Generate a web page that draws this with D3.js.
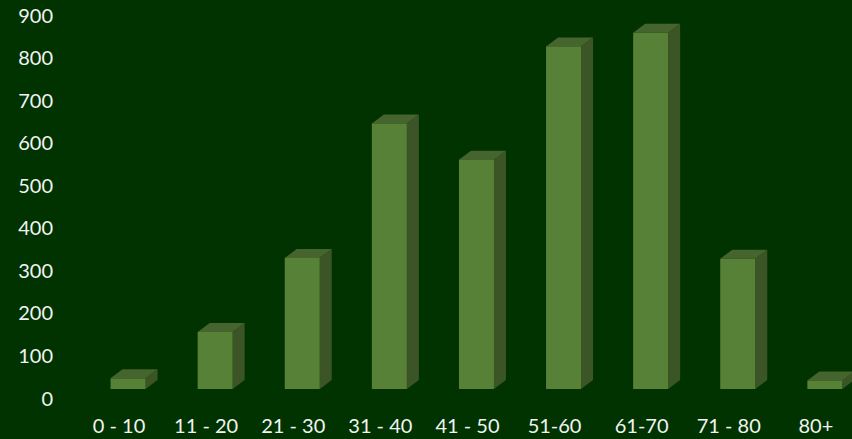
<!DOCTYPE html>
<html>
<head>
<meta charset="utf-8">
<script src="https://cdn.jsdelivr.net/npm/d3@7"></script>
<style>
  body { margin: 0; background: #003300; }
  text { font-family: Lato, "Open Sans", sans-serif; fill: #f2f2f2; }
</style>
</head>
<body>
<svg></svg>
<script>
var categories = ["0 - 10", "11 - 20", "21 - 30", "31 - 40", "41 - 50", "51-60", "61-70", "71 - 80", "80+"];
var values = [25, 134, 308, 624, 539, 805, 837, 306, 20];
var yTicks = [0, 100, 200, 300, 400, 500, 600, 700, 800, 900];

var svgWidth = 852;
var svgHeight = 439;
var barWidth = 35;
var depthX = 12, depthY = 9;

var svg = d3.select("svg")
    .attr("width", svgWidth)
    .attr("height", svgHeight);

svg.append("rect")
    .attr("width", svgWidth)
    .attr("height", svgHeight)
    .attr("fill", "#003300");

var x = d3.scaleBand()
    .domain(categories)
    .range([75.5, 75.5 + 87.1 * categories.length]);

var y = d3.scaleLinear()
    .domain([0, 900])
    .range([398, 15]);

// value axis
var yAxis = svg.append("g")
    .attr("transform", "translate(53,0)")
    .call(d3.axisLeft(y).tickValues(yTicks).tickSize(0).tickPadding(0));
yAxis.select(".domain").remove();
yAxis.selectAll("text")
    .attr("font-size", 20)
    .attr("dy", "0.35em");

// category labels
svg.selectAll(".cat")
    .data(categories)
    .enter()
    .append("text")
    .attr("class", "cat")
    .attr("x", function(d) { return x(d) + x.bandwidth() / 2; })
    .attr("y", 426)
    .attr("dy", "0.35em")
    .attr("text-anchor", "middle")
    .attr("font-size", 20)
    .text(function(d) { return d; });

// 3d bars: front face sits depthY below the value scale
var bars = svg.selectAll(".bar")
    .data(values)
    .enter()
    .append("g")
    .attr("class", "bar")
    .attr("transform", function(d, i) {
        var left = x(categories[i]) + x.bandwidth() / 2 - 8.5;
        return "translate(" + left + "," + (-depthY) + ")";
    });

bars.append("path")
    .attr("fill", "#3c5526")
    .attr("d", function(d) {
        var t = y(d), b = y(0);
        return "M" + barWidth + "," + t + "L" + (barWidth + depthX) + "," + (t - depthY) +
               "L" + (barWidth + depthX) + "," + (b - depthY) + "L" + barWidth + "," + b + "Z";
    });

bars.append("path")
    .attr("fill", "#46642d")
    .attr("d", function(d) {
        var t = y(d);
        return "M0," + t + "L" + depthX + "," + (t - depthY) +
               "L" + (barWidth + depthX) + "," + (t - depthY) + "L" + barWidth + "," + t + "Z";
    });

bars.append("rect")
    .attr("fill", "#588138")
    .attr("x", 0)
    .attr("width", barWidth)
    .attr("y", function(d) { return y(d); })
    .attr("height", function(d) { return y(0) - y(d); });
</script>
</body>
</html>
